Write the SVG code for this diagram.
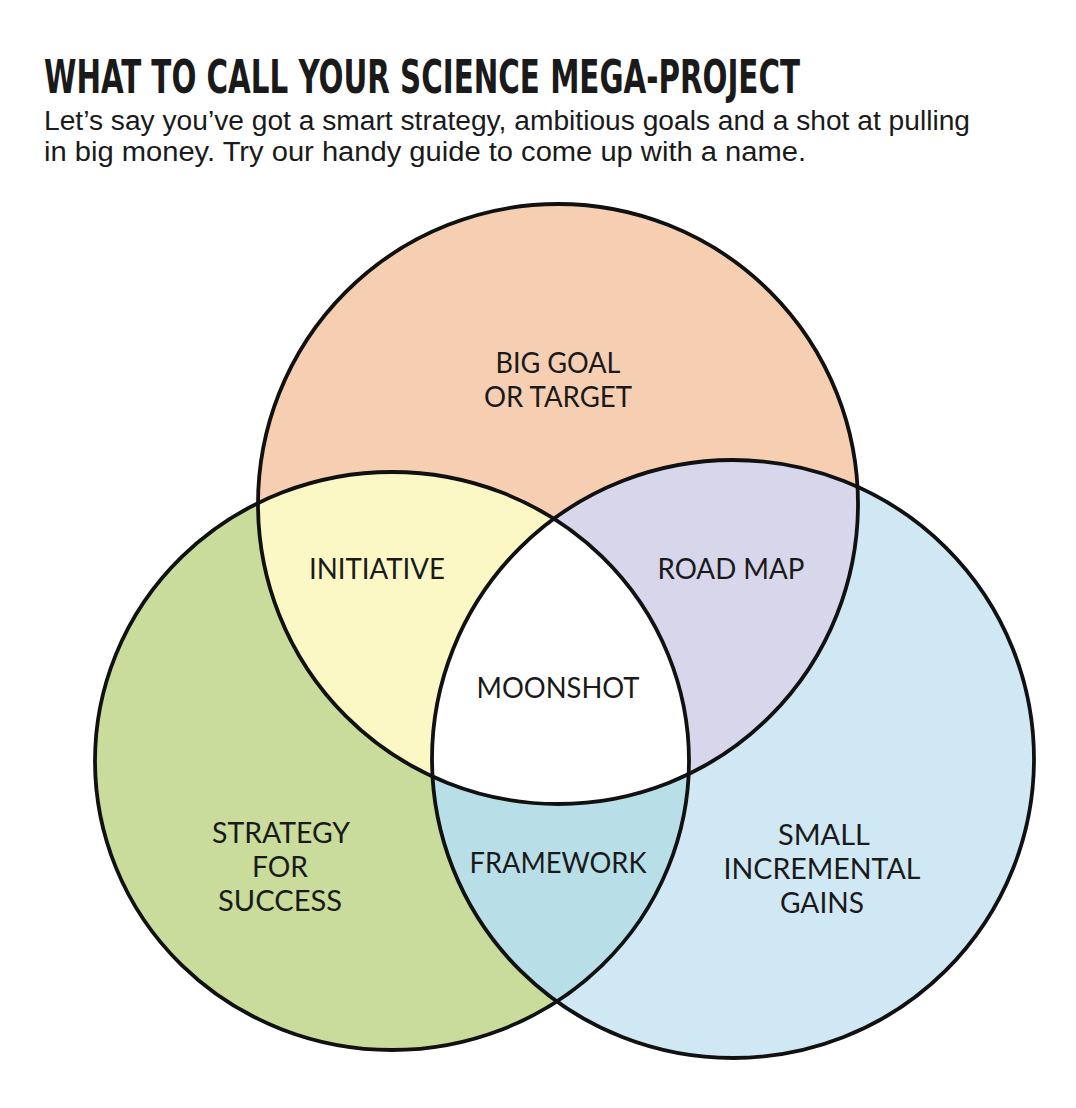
<svg xmlns="http://www.w3.org/2000/svg" width="1076" height="1108" viewBox="0 0 1076 1108">
<style>
.title{font-family:"Liberation Sans Narrow","DejaVu Sans Condensed","Liberation Sans",sans-serif;font-weight:bold;font-size:41px;fill:#1a1a1a}
.sub{font-family:"Liberation Sans Narrow","Liberation Sans",sans-serif;font-size:27px;fill:#1a1a1a}
.lbl{font-family:"Lato","Open Sans",sans-serif;font-size:28px;fill:#1a1a1a;text-anchor:middle}
.ring{fill:none;stroke:#111;stroke-width:3.8}
</style>
<defs>
<ellipse id="cTop" cx="558" cy="504" rx="300" ry="300"/>
<ellipse id="cLeft" cx="392" cy="761" rx="297" ry="289"/>
<ellipse id="cRight" cx="733" cy="759" rx="301" ry="299"/>
<clipPath id="clipLeft"><use href="#cLeft"/></clipPath>
<clipPath id="clipRight"><use href="#cRight"/></clipPath>
</defs>
<rect width="1076" height="1108" fill="#ffffff"/>
<text class="title" transform="translate(44,93) scale(1,1.12)" x="0" y="0" textLength="756" lengthAdjust="spacingAndGlyphs">WHAT TO CALL YOUR SCIENCE MEGA-PROJECT</text>
<text class="sub" x="44" y="130" textLength="926" lengthAdjust="spacingAndGlyphs">Let’s say you’ve got a smart strategy, ambitious goals and a shot at pulling</text>
<text class="sub" x="44" y="161" textLength="762" lengthAdjust="spacingAndGlyphs">in big money. Try our handy guide to come up with a name.</text>
<g id="fills">
<use href="#cTop" fill="#F6CFB2"/>
<use href="#cLeft" fill="#C9DC9B"/>
<use href="#cRight" fill="#D0E8F3"/>
<use href="#cTop" fill="#FCF8C6" clip-path="url(#clipLeft)"/>
<use href="#cTop" fill="#D8D6EA" clip-path="url(#clipRight)"/>
<use href="#cLeft" fill="#B8DFE7" clip-path="url(#clipRight)"/>
<g clip-path="url(#clipRight)"><use href="#cTop" fill="#FFFFFF" clip-path="url(#clipLeft)"/></g>
</g>
<g id="node-top"><use href="#cTop" class="ring"/>
<text class="lbl" x="558" y="373" textLength="125" lengthAdjust="spacingAndGlyphs">BIG GOAL</text>
<text class="lbl" x="558" y="407" textLength="148" lengthAdjust="spacingAndGlyphs">OR TARGET</text></g>
<g id="node-left"><use href="#cLeft" class="ring"/>
<text class="lbl" x="281" y="843" textLength="138" lengthAdjust="spacingAndGlyphs">STRATEGY</text>
<text class="lbl" x="280" y="877" textLength="56" lengthAdjust="spacingAndGlyphs">FOR</text>
<text class="lbl" x="280" y="911" textLength="124" lengthAdjust="spacingAndGlyphs">SUCCESS</text></g>
<g id="node-right"><use href="#cRight" class="ring"/>
<text class="lbl" x="824" y="845" textLength="92" lengthAdjust="spacingAndGlyphs">SMALL</text>
<text class="lbl" x="822" y="879" textLength="197" lengthAdjust="spacingAndGlyphs">INCREMENTAL</text>
<text class="lbl" x="822" y="913" textLength="84" lengthAdjust="spacingAndGlyphs">GAINS</text></g>
<g id="node-initiative"><text class="lbl" x="377" y="579" textLength="136" lengthAdjust="spacingAndGlyphs">INITIATIVE</text></g>
<g id="node-roadmap"><text class="lbl" x="731" y="579" textLength="147" lengthAdjust="spacingAndGlyphs">ROAD MAP</text></g>
<g id="node-framework"><text class="lbl" x="558" y="873" textLength="177" lengthAdjust="spacingAndGlyphs">FRAMEWORK</text></g>
<g id="node-moonshot"><text class="lbl" x="558" y="698" textLength="163" lengthAdjust="spacingAndGlyphs">MOONSHOT</text></g>
<g id="connectors"></g>
</svg>
